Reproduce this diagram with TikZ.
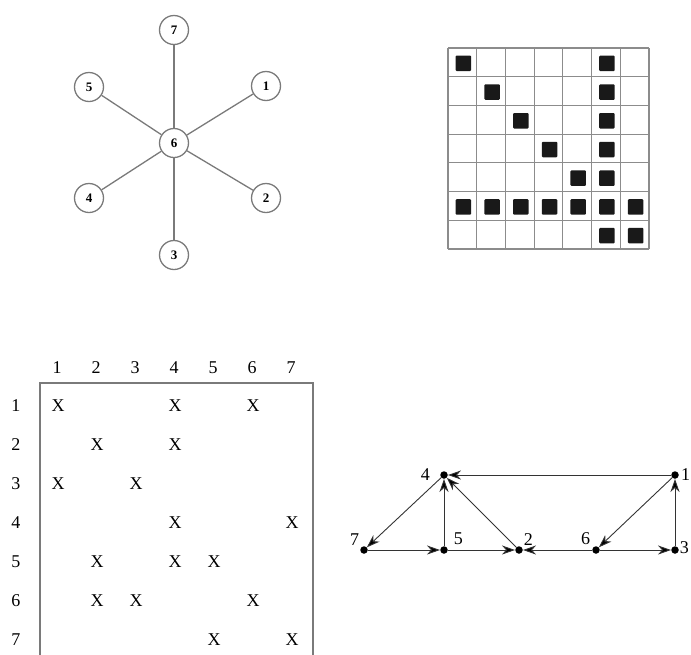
\documentclass[tikz,border=0pt]{standalone}
\usepackage{fontspec}
\setmainfont{Liberation Serif}
\usetikzlibrary{arrows.meta, positioning}
\definecolor{edgegray}{HTML}{7A7A7A}
\definecolor{gridgray}{HTML}{8C8C8C}
\definecolor{arcgray}{HTML}{333333}

\begin{document}
\begin{tikzpicture}[
  x=1pt, y=-1pt,
  vertex/.style={circle, draw=edgegray, line width=1.3pt, fill=white, minimum size=29pt, inner sep=0pt, font=\fontsize{13}{13}\selectfont\bfseries},
  spoke/.style={draw=edgegray, line width=1.3pt},
  cell/.style={fill=black!90, minimum size=15.5pt, inner sep=0pt, rounded corners=1pt},
  entry/.style={inner sep=0pt, font=\fontsize{18}{18}\selectfont},
  dot/.style={circle, fill=black, minimum size=7.5pt, inner sep=0pt},
  lbl/.style={inner sep=0pt, font=\fontsize{18}{18}\selectfont},
  arc/.style={draw=arcgray, line width=0.9pt, -{Stealth[length=13pt, width=9pt, inset=4pt, fill=black]}}
]
\useasboundingbox (0,0) rectangle (691,654);

% star graph
\node[vertex] (s6) at (174,143) {6};
\node[vertex] (s7) at (174,30) {7};
\node[vertex] (s1) at (266,86) {1};
\node[vertex] (s5) at (89,87) {5};
\node[vertex] (s4) at (89,198) {4};
\node[vertex] (s2) at (266,198) {2};
\node[vertex] (s3) at (174,255) {3};
\foreach \s in {s7,s1,s5,s4,s2,s3}
  \draw[spoke] (s6) -- (\s);

% pattern grid
\foreach \i in {0,...,7} {
  \draw[gridgray, line width=1.2pt] ({448+\i*28.714},48) -- ({448+\i*28.714},249);
  \draw[gridgray, line width=1.2pt] (448,{48+\i*28.714}) -- (649,{48+\i*28.714});
}
\foreach \r/\c in {1/1,1/6,2/2,2/6,3/3,3/6,4/4,4/6,5/5,5/6,
                   6/1,6/2,6/3,6/4,6/5,6/6,6/7,7/6,7/7}
  \node[cell] (b\r\c) at ({449+(\c-0.5)*28.714},{49+(\r-0.5)*28.714}) {};

% matrix
\draw[edgegray, line width=1.3pt] (40,670) -- (40,383) -- (313,383) -- (313,670);
\foreach \c in {1,...,7}
  \node[entry] (col\c) at ({57+39*(\c-1)},368) {\c};
\foreach \r in {1,...,7}
  \node[entry] (row\r) at (16,{406+39*(\r-1)}) {\r};
\foreach \r/\c in {1/1,1/4,1/6,2/2,2/4,3/1,3/3,4/4,4/7,
                   5/2,5/4,5/5,6/2,6/3,6/6,7/5,7/7}
  \node[entry] (x\r\c) at ({58+39*(\c-1)},{406+39*(\r-1)}) {X};

% directed graph
\node[dot] (g4) at (444,475) {};
\node[dot] (g1) at (675,475) {};
\node[dot] (g7) at (364,550) {};
\node[dot] (g5) at (444,550) {};
\node[dot] (g2) at (519,550) {};
\node[dot] (g6) at (596,550) {};
\node[dot] (g3) at (675,550) {};
\node[lbl, left=10pt of g4] (l4) {4};
\node[lbl, right=2pt of g1] (l1) {1};
\node[lbl, above left=2pt and 2pt of g7] (l7) {7};
\node[lbl, above right=2pt and 7pt of g5] (l5) {5};
\node[lbl, above right=1.5pt and 2pt of g2] (l2) {2};
\node[lbl, above left=2.5pt and 3pt of g6] (l6) {6};
\node[lbl, above right=-7pt and 2pt of g3] (l3) {3};
\draw[arc] (g1) -- (g4);
\draw[arc] (g4) -- (g7);
\draw[arc] (g7) -- (g5);
\draw[arc] (g5) -- (g4);
\draw[arc] (g5) -- (g2);
\draw[arc] (g2) -- (g4);
\draw[arc] (g6) -- (g2);
\draw[arc] (g1) -- (g6);
\draw[arc] (g6) -- (g3);
\draw[arc] (g3) -- (g1);
\end{tikzpicture}
\end{document}
